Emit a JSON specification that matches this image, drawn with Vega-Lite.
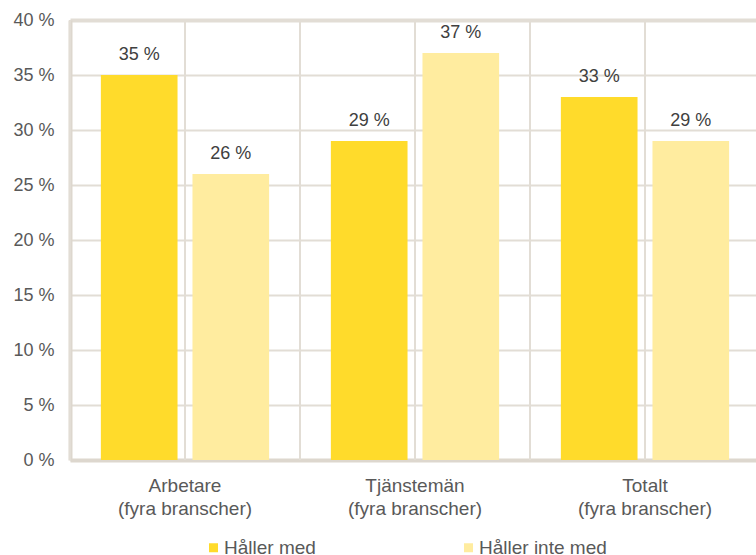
{
  "$schema": "https://vega.github.io/schema/vega-lite/v6.json",
  "width": 686,
  "height": 440,
  "autosize": {"type": "none"},
  "padding": {"left": 70, "top": 20, "right": 0, "bottom": 95},
  "config": {"view": {"stroke": null}, "font": "Liberation Sans"},
  "data": {
    "values": [
      {"cat": "Arbetare|(fyra branscher)", "series": "Håller med", "value": 35, "label": "35 %"},
      {"cat": "Arbetare|(fyra branscher)", "series": "Håller inte med", "value": 26, "label": "26 %"},
      {"cat": "Tjänstemän|(fyra branscher)", "series": "Håller med", "value": 29, "label": "29 %"},
      {"cat": "Tjänstemän|(fyra branscher)", "series": "Håller inte med", "value": 37, "label": "37 %"},
      {"cat": "Totalt|(fyra branscher)", "series": "Håller med", "value": 33, "label": "33 %"},
      {"cat": "Totalt|(fyra branscher)", "series": "Håller inte med", "value": 29, "label": "29 %"}
    ]
  },
  "layer": [
    {
      "mark": {"type": "bar"},
      "encoding": {
        "x": {
          "field": "cat", "type": "nominal",
          "sort": ["Arbetare|(fyra branscher)", "Tjänstemän|(fyra branscher)", "Totalt|(fyra branscher)"],
          "scale": {"range": [0, 690], "paddingInner": 0, "paddingOuter": 0},
          "axis": {
            "title": null, "labelAngle": 0, "labelAlign": "center", "bandPosition": 0.5,
            "labelExpr": "split(datum.label, '|')",
            "labelFontSize": 19, "labelColor": "#595959", "labelLineHeight": 23,
            "labelPadding": 16, "ticks": false, "tickSize": 0, "grid": false,
            "domainColor": "#ddd7ce", "domainWidth": 4
          }
        },
        "xOffset": {
          "field": "series", "type": "nominal", "sort": ["Håller med", "Håller inte med"],
          "scale": {"paddingInner": 0.163, "paddingOuter": 0.337}
        },
        "y": {
          "field": "value", "type": "quantitative",
          "scale": {"domain": [0, 40], "nice": false},
          "axis": {
            "title": null, "values": [0, 5, 10, 15, 20, 25, 30, 35, 40],
            "labelExpr": "datum.value + ' %'", "labelFontSize": 18, "labelColor": "#595959",
            "labelPadding": 16, "ticks": false, "tickSize": 0,
            "domainColor": "#ddd7ce", "domainWidth": 4,
            "grid": true, "gridColor": "#e2ddd5",
            "gridWidth": {"condition": {"test": "datum.value === 40", "value": 4}, "value": 2}
          }
        },
        "color": {
          "field": "series", "type": "nominal",
          "scale": {"domain": ["Håller med", "Håller inte med"], "range": ["#ffdb2b", "#ffec9f"]},
          "legend": {
            "title": null, "orient": "none", "legendX": 134, "legendY": 518,
            "direction": "horizontal", "symbolType": "square", "symbolSize": 81,
            "symbolStrokeWidth": 0, "labelFontSize": 19, "labelColor": "#595959",
            "labelOffset": 1, "columnPadding": 143
          }
        }
      }
    },
    {
      "mark": {"type": "rule", "color": "#e2ddd5", "strokeWidth": 2},
      "encoding": {
        "x": {"field": "cat", "type": "nominal", "bandPosition": 0,
              "sort": ["Arbetare|(fyra branscher)", "Tjänstemän|(fyra branscher)", "Totalt|(fyra branscher)"]}
      }
    },
    {
      "mark": {"type": "rule", "color": "#e2ddd5", "strokeWidth": 2},
      "encoding": {
        "x": {"field": "cat", "type": "nominal", "bandPosition": 0.5,
              "sort": ["Arbetare|(fyra branscher)", "Tjänstemän|(fyra branscher)", "Totalt|(fyra branscher)"]}
      }
    },
    {
      "mark": {"type": "text", "dy": -15, "baseline": "alphabetic", "fontSize": 18, "color": "#404040"},
      "encoding": {
        "x": {"field": "cat", "type": "nominal",
              "sort": ["Arbetare|(fyra branscher)", "Tjänstemän|(fyra branscher)", "Totalt|(fyra branscher)"]},
        "xOffset": {"field": "series", "type": "nominal", "sort": ["Håller med", "Håller inte med"]},
        "y": {"field": "value", "type": "quantitative"},
        "text": {"field": "label"}
      }
    }
  ]
}
